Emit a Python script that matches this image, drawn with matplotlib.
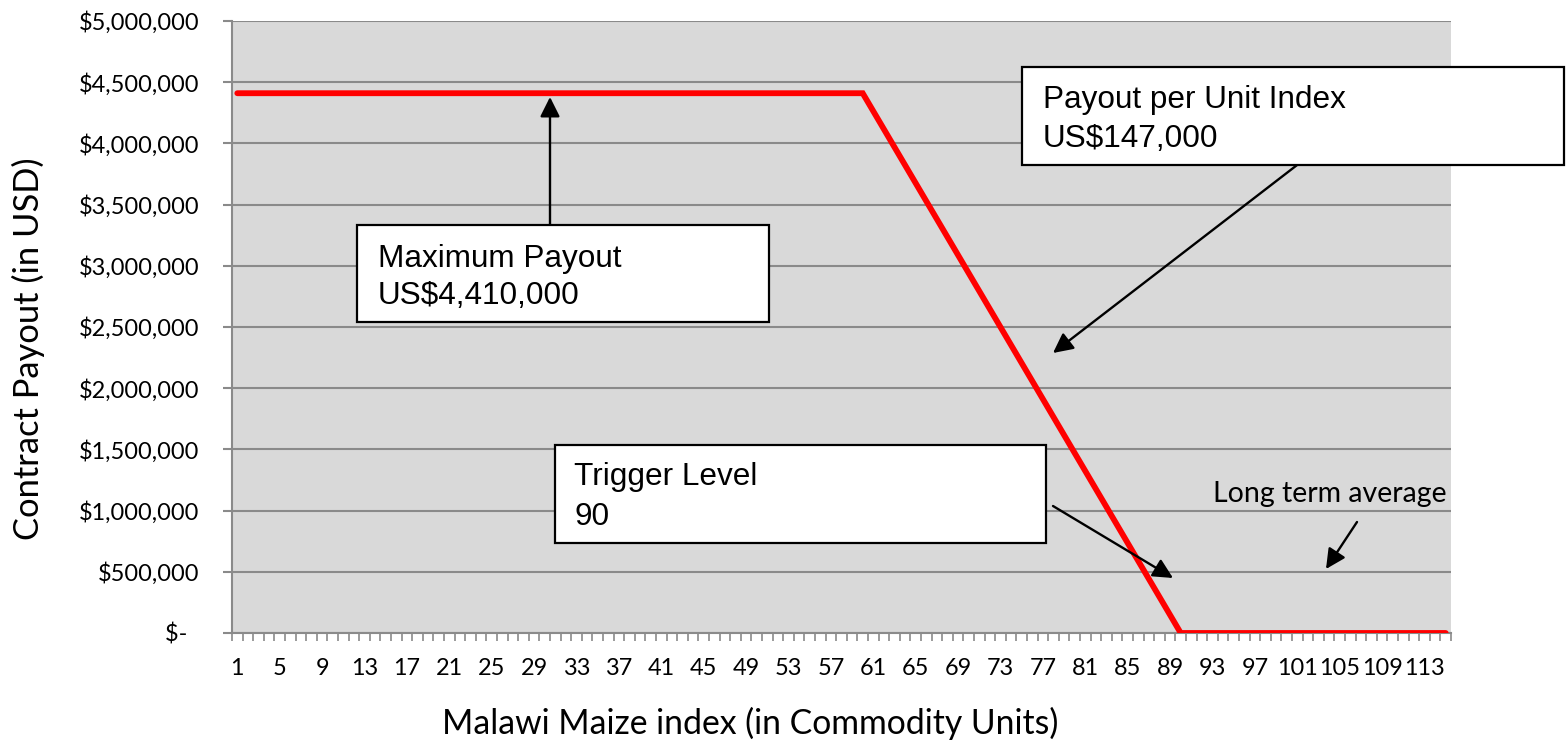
import numpy as np
import matplotlib
matplotlib.use("Agg")
import matplotlib.pyplot as plt
from matplotlib.patches import Rectangle
from matplotlib.ticker import FixedLocator, FuncFormatter

# ── Veri ──────────────────────────────────────────────────────────
index_units = np.arange(1, 116)            # kategori ekseni 1..115
knot_index = [1, 60, 90, 115]              # kırılma noktaları
knot_payout = [4410000, 4410000, 0, 0]     # USD
y_ticks = np.arange(0, 5000001, 500000)
x_label_step = 4

W, H = 1566, 740
def fx(px):
    return px / W
def fy(py):
    return 1 - py / H
def pt(px):
    return px * 0.72

TICK_FONT = "Lato"
BOX_FONT = "Liberation Sans"
GRID = "#8a8a8a"

fig = plt.figure(figsize=(W / 100, H / 100), dpi=100)
ax = fig.add_axes([fx(232), fy(633), fx(1451) - fx(232), fy(21) - fy(633)])
ax.set_facecolor("#d9d9d9")

# çizgi — kırılma noktaları kategori ekseni üzerinde
ax.plot(knot_index, knot_payout, color="#ff0000", lw=4.2,
        solid_capstyle="round", solid_joinstyle="miter", zorder=3)

ax.set_xlim(index_units[0] - 0.5, index_units[-1] + 0.5)
ax.set_ylim(y_ticks[0], y_ticks[-1])

# y ekseni
ax.set_yticks(y_ticks)
def usd(v, pos):
    if v == 0:
        return "$-  "
    return "${:,.0f}".format(v)
ax.yaxis.set_major_formatter(FuncFormatter(usd))
ax.yaxis.grid(True, color=GRID, lw=1.5)
ax.set_axisbelow(True)

# x ekseni — etiketler 4'te bir, işaretler her kategori sınırında
ax.xaxis.set_major_locator(FixedLocator(index_units[::x_label_step]))
ax.set_xticklabels([str(i) for i in index_units[::x_label_step]])
ax.xaxis.set_minor_locator(FixedLocator(np.arange(index_units[0] - 0.5,
                                                  index_units[-1] + 1, 1)))
ax.tick_params(axis="x", which="major", length=0, pad=pt(25),
               labelsize=pt(23.5))
ax.tick_params(axis="x", which="minor", length=pt(8), width=1.2,
               color=GRID, direction="out")
ax.tick_params(axis="y", length=pt(9), width=1.5, color=GRID,
               pad=pt(24), labelsize=pt(23.5))
for lab in ax.get_xticklabels() + ax.get_yticklabels():
    lab.set_fontfamily(TICK_FONT)

for s in ["top", "right"]:
    ax.spines[s].set_visible(False)
for s in ["left", "bottom"]:
    ax.spines[s].set_color(GRID)
    ax.spines[s].set_linewidth(1.5)

# eksen başlıkları
fig.text(fx(750), fy(734), "Malawi Maize index (in Commodity Units)",
         ha="center", va="baseline", fontsize=pt(33.8), family=TICK_FONT)
fig.text(fx(28), fy(349), "Contract Payout (in USD)", rotation=90,
         ha="center", va="center", fontsize=pt(34.5), family=TICK_FONT)

# ── Kutular ve oklar ──────────────────────────────────────────────
def kutu(x0, y0, x1, y1, lines, tx, baselines):
    fig.patches.append(Rectangle((fx(x0), fy(y1)), fx(x1) - fx(x0),
                                 fy(y0) - fy(y1), transform=fig.transFigure,
                                 facecolor="white", edgecolor="black",
                                 lw=1.6, zorder=5, clip_on=False))
    for txt, by in zip(lines, baselines):
        fig.text(fx(tx), fy(by), txt, ha="left", va="baseline",
                 fontsize=pt(31.5), family=BOX_FONT, zorder=6)

def ok(x0, y0, x1, y1):
    ax.annotate("", xy=(fx(x1), fy(y1)), xytext=(fx(x0), fy(y0)),
                xycoords="figure fraction", textcoords="figure fraction",
                arrowprops=dict(arrowstyle="-|>", color="black", lw=1.7,
                                mutation_scale=30, shrinkA=0, shrinkB=0),
                zorder=6, annotation_clip=False)

kutu(357, 225, 769, 322, ["Maximum Payout", "US$4,410,000"], 378, [267, 304])
ok(550, 225, 550, 97)

kutu(1022, 67, 1564, 165, ["Payout per Unit Index", "US$147,000"], 1043,
     [108, 147])
ok(1301, 162, 1053, 353)

kutu(555, 445, 1046, 543, ["Trigger Level", "90"], 574, [485, 525])
ok(1053, 506, 1173, 578)

fig.text(fx(1447), fy(502), "Long term average", ha="right", va="baseline",
         fontsize=pt(28.5), family=TICK_FONT)
ok(1357, 522, 1326, 569)

fig.savefig("out.png", dpi=100)
